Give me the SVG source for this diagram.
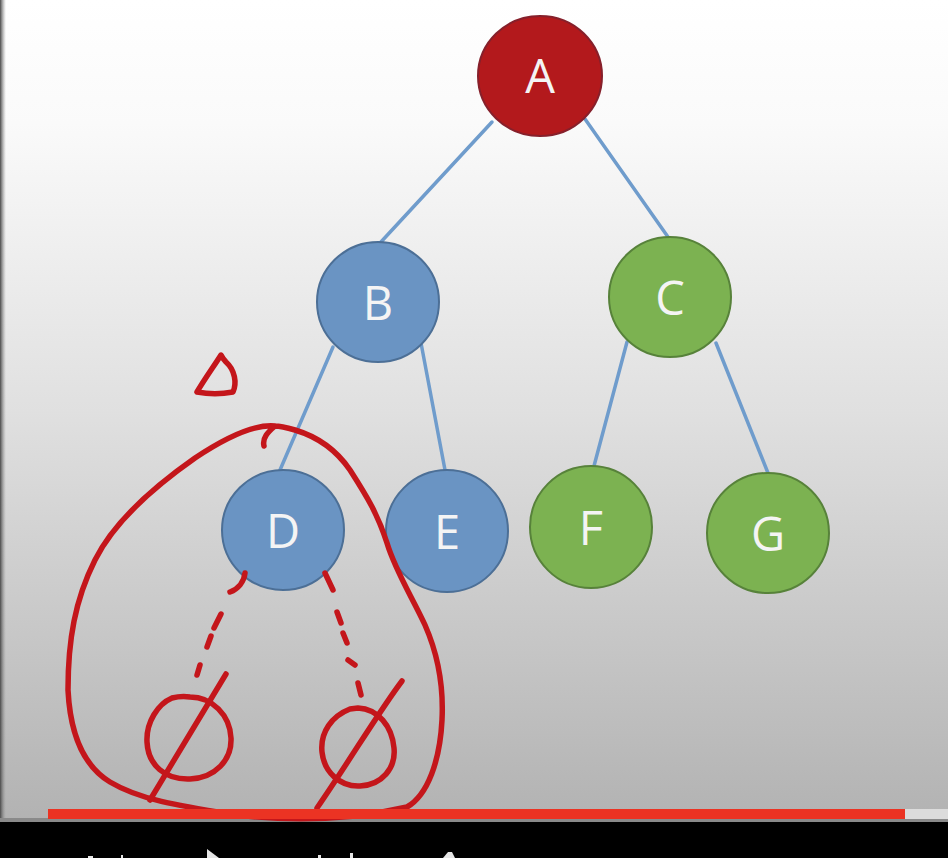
<svg xmlns="http://www.w3.org/2000/svg" width="948" height="858" viewBox="0 0 948 858">
<defs>
<linearGradient id="bg" x1="0" y1="0" x2="0" y2="1">
<stop offset="0" stop-color="#ffffff"/>
<stop offset="0.15" stop-color="#fafafa"/>
<stop offset="0.5" stop-color="#e0e0e0"/>
<stop offset="1" stop-color="#b2b2b2"/>
</linearGradient>
<linearGradient id="edge" x1="0" y1="0" x2="1" y2="0">
<stop offset="0" stop-color="#4a4a4a"/>
<stop offset="1" stop-color="#9a9a9a" stop-opacity="0"/>
</linearGradient>
<style>
.edge{stroke:#6f9ccc;stroke-width:3.5;fill:none;stroke-linecap:round}
.red{fill:#b3191c;stroke:#86202b;stroke-width:2}
.blue{fill:#6a94c3;stroke:#4c6f96;stroke-width:2}
.green{fill:#7cb251;stroke:#57823a;stroke-width:2}
.lbl{font-family:"Open Sans","Liberation Sans",sans-serif;font-size:47px;fill:#f4f4f4;text-anchor:middle}
.ink{fill:none;stroke:#c4161b;stroke-width:5.5;stroke-linecap:round;stroke-linejoin:round}
.ui{fill:#e6e6e6}
</style>
</defs>
<rect x="0" y="0" width="948" height="822" fill="url(#bg)"/>
<rect x="0" y="0" width="6" height="822" fill="url(#edge)"/>
<rect x="0" y="818" width="948" height="4" fill="#8a8a8a"/>

<g id="connectors">
<line class="edge" x1="492" y1="122" x2="380" y2="243"/>
<line class="edge" x1="585" y1="119" x2="668" y2="237"/>
<line class="edge" x1="333" y1="347" x2="280" y2="470"/>
<line class="edge" x1="421" y1="343" x2="445" y2="470"/>
<line class="edge" x1="627" y1="342" x2="594" y2="466"/>
<line class="edge" x1="716" y1="343" x2="768" y2="473"/>
</g>

<g id="node-A"><ellipse class="red" cx="540" cy="76" rx="62" ry="60"/><text class="lbl" x="540" y="93">A</text></g>
<g id="node-B"><ellipse class="blue" cx="378" cy="302" rx="61" ry="60"/><text class="lbl" x="378" y="320">B</text></g>
<g id="node-C"><ellipse class="green" cx="670" cy="297" rx="61" ry="60"/><text class="lbl" x="670" y="315">C</text></g>
<g id="node-D"><ellipse class="blue" cx="283" cy="530" rx="61" ry="60"/><text class="lbl" x="283" y="548">D</text></g>
<g id="node-E"><ellipse class="blue" cx="447" cy="531" rx="61" ry="61"/><text class="lbl" x="447" y="549">E</text></g>
<g id="node-F"><ellipse class="green" cx="591" cy="527" rx="61" ry="61"/><text class="lbl" x="591" y="545">F</text></g>
<g id="node-G"><ellipse class="green" cx="768" cy="533" rx="61" ry="60"/><text class="lbl" x="768" y="551">G</text></g>

<g id="annotations">
<path class="ink" d="M221,355 C214,366 204,380 197,392 C208,394 222,394 233,392 C237,383 235,370 226,362 C224,360 222,357 221,355 Z"/>
<path class="ink" d="M264,446 C262,438 268,432 275,426 C255,424 225,438 195,458 C155,486 115,520 95,560 C75,600 68,640 68,690 C70,730 82,765 110,782 C140,800 180,806 236,815 C300,822 360,818 407,807 C428,795 440,760 442,720 C444,680 436,650 425,625 C412,597 395,570 387,543 C378,515 368,498 350,470 C335,448 315,436 295,430 C288,428 280,426 275,426"/>
<path class="ink" d="M245,573 C244,582 238,589 230,592"/>
<path class="ink" d="M221,614 L214,628 M211,636 L207,647 M200,665 L197,675"/>
<path class="ink" d="M325,573 L333,590 M337,612 L341,623 M343,633 L347,643 M348,660 L355,665 M358,683 L361,695"/>
<path class="ink" d="M172,698 C158,704 146,722 147,742 C148,765 165,780 190,779 C215,778 232,760 231,738 C230,715 212,697 190,697 C183,696 176,697 172,698 Z"/>
<path class="ink" d="M226,674 L150,800"/>
<path class="ink" d="M350,709 C332,716 320,732 322,752 C324,772 340,787 360,786 C382,785 396,768 394,748 C392,726 378,709 358,708 Z"/>
<path class="ink" d="M402,681 C380,710 350,760 317,808"/>
</g>

<rect x="48" y="809" width="857" height="10" fill="#eb3323"/>
<rect x="905" y="809" width="43" height="10" fill="#dcdcdc"/>
<rect x="0" y="822" width="948" height="36" fill="#000000"/>
<g id="controls">
<rect class="ui" x="88" y="856" width="5" height="2"/>
<rect class="ui" x="121" y="855" width="2" height="3"/>
<polygon class="ui" points="207,849 219,858 207,858"/>
<rect class="ui" x="318" y="855" width="3" height="3"/>
<rect class="ui" x="350" y="853" width="3" height="5"/>
<path class="ui" d="M443,858 L448,852 L452,852 L455,858 Z"/>
</g>
</svg>
